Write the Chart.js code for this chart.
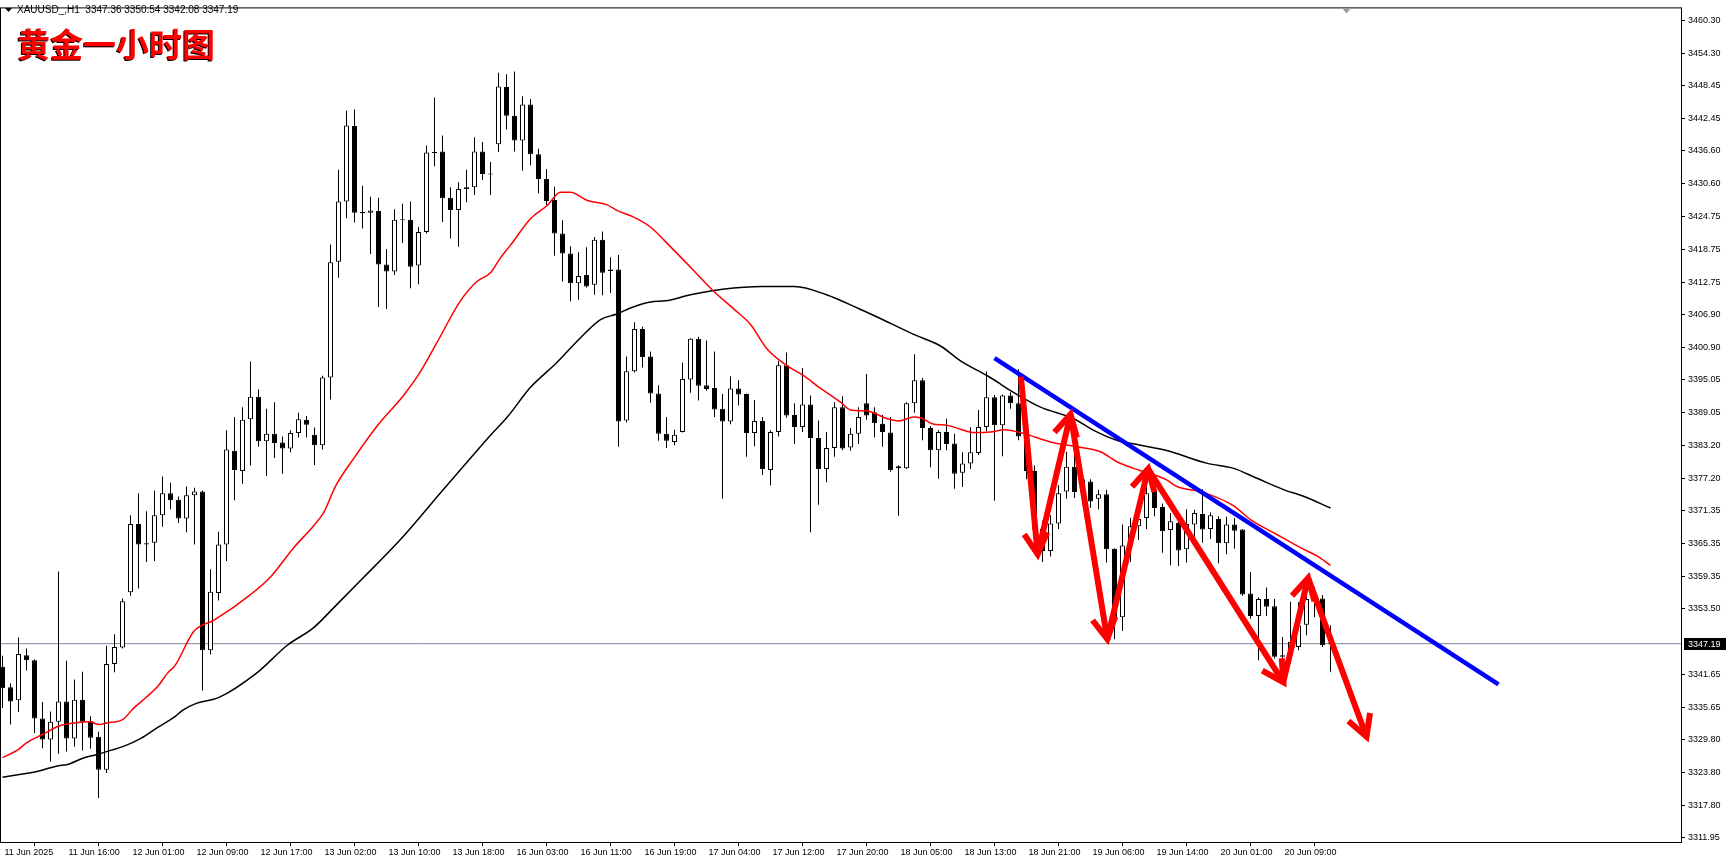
<!DOCTYPE html>
<html><head><meta charset="utf-8">
<script src="https://cdn.jsdelivr.net/npm/chart.js@4.4.1/dist/chart.umd.min.js"></script>
<style>html,body{margin:0;padding:0;background:#fff;overflow:hidden}</style>
</head><body><canvas id="c" width="1729" height="865"></canvas>
<script>
const openP = [3343.0,3339.3,3336.9,3345.1,3344.2,3333.6,3329.8,3333.0,3336.7,3330.0,3337.0,3333.1,3330.3,3324.3,3343.5,3346.5,3356.5,3368.9,3365.4,3365.5,
3370.5,3374.5,3373.3,3369.9,3374.1,3374.8,3346.0,3356.4,3365.2,3382.2,3378.5,3387.9,3392.0,3383.9,3385.3,3383.7,3382.6,3385.4,3387.8,3385.1,
3383.2,3395.5,3416.5,3427.4,3441.1,3425.5,3425.4,3425.7,3416.0,3414.7,3424.1,3424.1,3415.8,3421.9,3436.4,3436.5,3428.1,3425.9,3429.7,3430.0,
3436.5,3432.4,3437.8,3448.2,3443.0,3438.5,3445.0,3436.0,3431.5,3427.7,3421.6,3418.0,3412.6,3414.1,3412.3,3420.5,3414.8,3415.1,3387.7,3396.6,
3404.3,3399.3,3392.6,3385.3,3383.8,3385.6,3395.1,3402.5,3394.1,3393.6,3389.8,3387.5,3393.5,3392.5,3385.4,3387.6,3378.7,3385.6,3397.7,3388.7,
3386.5,3390.6,3384.5,3378.9,3382.7,3390.1,3382.8,3385.3,3390.8,3389.2,3387.1,3385.5,3379.0,3379.0,3390.8,3395.0,3386.3,3382.3,3385.6,3383.5,
3378.2,3379.9,3381.8,3386.5,3391.9,3386.8,3392.2,3390.8,3384.8,3378.5,3368.0,3364.0,3369.0,3374.8,3379.3,3374.7,3376.6,3373.5,3374.3,3364.4,
3352.0,3365.0,3368.5,3370.0,3375.1,3372.0,3367.8,3369.1,3364.3,3368.8,3370.7,3368.0,3369.8,3365.4,3368.8,3367.9,3356.3,3352.2,3355.3,3354.0,
3344.8,3345.1,3346.6,3350.6,3355.3,3355.4,3347.36];
const highP = [3345.0,3340.0,3348.3,3346.3,3344.3,3336.6,3334.9,3360.3,3344.1,3340.7,3342.1,3334.0,3331.2,3346.8,3348.9,3355.4,3370.5,3374.5,3371.2,3375.0,
3377.5,3376.4,3373.9,3375.7,3375.5,3375.0,3360.7,3367.5,3385.9,3388.3,3390.1,3398.4,3393.3,3389.8,3391.0,3384.8,3385.9,3389.1,3388.5,3386.4,
3395.8,3419.6,3433.2,3443.9,3444.1,3430.3,3428.3,3428.1,3418.8,3426.0,3427.0,3427.4,3422.8,3437.6,3446.3,3439.4,3430.0,3430.9,3433.2,3439.1,
3438.2,3434.6,3450.8,3450.5,3451.0,3446.5,3446.0,3437.0,3433.3,3430.1,3424.0,3419.3,3418.2,3419.1,3421.0,3422.0,3417.3,3417.7,3399.3,3405.5,
3404.7,3400.2,3394.1,3388.3,3386.0,3398.2,3402.6,3402.9,3402.2,3400.2,3392.5,3395.7,3395.0,3392.6,3391.4,3388.3,3385.9,3398.5,3400.0,3390.8,
3397.2,3392.2,3387.7,3385.6,3391.0,3392.1,3386.3,3390.1,3396.1,3390.1,3388.7,3388.3,3379.5,3391.0,3399.7,3395.4,3386.7,3385.9,3388.0,3385.3,
3381.9,3386.5,3389.6,3396.6,3392.3,3392.4,3392.8,3397.0,3386.0,3379.5,3369.5,3370.5,3376.0,3382.0,3382.3,3378.0,3377.0,3375.1,3375.1,3364.5,
3368.8,3370.0,3373.0,3376.5,3376.0,3372.6,3370.9,3370.6,3371.6,3371.5,3375.2,3371.0,3370.3,3370.2,3370.0,3368.0,3360.2,3355.6,3357.4,3355.3,
3348.4,3354.8,3354.7,3356.8,3357.5,3356.0,3350.54];
const lowP = [3335.5,3332.5,3334.8,3342.3,3331.0,3328.2,3325.8,3327.2,3327.6,3328.5,3327.8,3328.1,3319.2,3323.7,3342.0,3346.3,3355.9,3357.2,3362.0,3362.2,
3368.4,3371.6,3369.1,3367.4,3365.2,3338.7,3345.2,3355.0,3362.2,3373.2,3376.2,3379.5,3382.9,3377.6,3380.9,3378.0,3381.9,3384.6,3384.6,3379.6,
3382.4,3391.5,3413.6,3424.4,3423.6,3422.5,3417.9,3408.3,3407.9,3414.1,3419.9,3411.7,3412.4,3421.6,3433.8,3423.7,3420.7,3419.2,3427.3,3428.6,
3431.3,3428.6,3436.4,3440.5,3436.5,3433.0,3434.0,3428.9,3426.8,3417.6,3412.9,3409.3,3409.6,3411.8,3410.5,3410.4,3410.8,3382.9,3387.3,3396.4,
3397.3,3390.9,3384.0,3382.7,3383.2,3385.5,3392.7,3391.3,3393.1,3388.3,3373.5,3387.0,3390.4,3381.1,3383.0,3377.8,3375.9,3384.8,3388.2,3383.4,
3385.6,3367.4,3372.4,3376.5,3381.1,3382.3,3382.2,3383.4,3387.8,3384.6,3382.9,3378.4,3370.4,3378.9,3389.1,3384.1,3379.2,3377.1,3382.3,3375.3,
3375.6,3378.9,3381.4,3385.7,3373.1,3381.2,3389.8,3384.1,3377.0,3366.0,3362.0,3363.0,3368.0,3373.5,3373.6,3372.5,3371.8,3371.6,3361.9,3348.0,
3349.5,3362.0,3366.0,3368.0,3370.3,3363.7,3361.4,3361.3,3361.9,3365.5,3365.5,3366.2,3361.8,3363.4,3364.4,3355.9,3351.7,3344.2,3352.2,3344.5,
3341.5,3343.6,3346.0,3348.7,3352.0,3346.6,3342.08];
const closeP = [3339.1,3336.7,3345.3,3344.2,3333.6,3329.8,3333.0,3336.7,3330.0,3337.0,3333.0,3330.1,3324.3,3343.5,3346.6,3354.9,3368.9,3365.2,3365.2,3370.5,
3374.5,3373.2,3369.9,3374.1,3374.8,3346.0,3356.6,3365.2,3382.4,3378.7,3387.8,3392.0,3383.9,3385.3,3383.6,3382.6,3385.4,3387.9,3386.9,3383.2,
3395.5,3416.4,3427.4,3441.2,3425.4,3425.3,3425.8,3416.0,3414.7,3424.1,3424.0,3415.6,3421.9,3436.3,3436.2,3428.0,3425.9,3429.7,3430.0,3436.5,
3432.4,3432.3,3448.3,3443.0,3438.5,3445.0,3436.0,3431.5,3427.5,3421.6,3418.0,3412.6,3413.9,3412.0,3420.5,3414.5,3415.1,3387.5,3396.6,3404.3,
3399.2,3392.6,3385.3,3384.0,3385.1,3395.2,3402.5,3394.0,3393.4,3389.7,3387.5,3393.5,3392.4,3385.4,3387.6,3378.9,3385.6,3397.7,3388.6,3386.5,
3390.6,3384.5,3378.9,3382.7,3390.1,3382.6,3385.3,3388.3,3388.6,3387.2,3385.6,3378.7,3379.4,3390.8,3395.0,3386.3,3382.3,3385.6,3383.4,3378.0,
3379.9,3381.9,3386.5,3391.9,3386.8,3392.2,3390.8,3384.8,3378.5,3368.0,3364.0,3369.0,3374.5,3379.3,3374.7,3377.0,3373.0,3374.3,3364.3,3352.0,
3365.0,3368.5,3369.8,3374.5,3371.8,3367.6,3369.4,3364.1,3368.9,3370.9,3367.9,3370.5,3365.4,3368.8,3367.7,3356.1,3352.2,3355.3,3353.9,3344.8,
3345.1,3347.5,3350.5,3355.3,3355.6,3346.9,3347.19];

const xTickLabels = ['11 Jun 2025','11 Jun 16:00','12 Jun 01:00','12 Jun 09:00','12 Jun 17:00','13 Jun 02:00','13 Jun 10:00','13 Jun 18:00',
'16 Jun 03:00','16 Jun 11:00','16 Jun 19:00','17 Jun 04:00','17 Jun 12:00','17 Jun 20:00','18 Jun 05:00','18 Jun 13:00','18 Jun 21:00',
'19 Jun 06:00','19 Jun 14:00','20 Jun 01:00','20 Jun 09:00'];
const yTickValues = [3460.30,3454.30,3448.45,3442.45,3436.60,3430.60,3424.75,3418.75,3412.75,3406.90,3400.90,3395.05,3389.05,3383.20,
3377.20,3371.35,3365.35,3359.35,3353.50,3341.65,3335.65,3329.80,3323.80,3317.80,3311.95];

const maRedBars = [0,2,3,5,7,9,11,12,13,15,16.4,18,19.5,20.6,21.6,23.9,26.5,31,33.5,36.4,38.9,40.2,41.6,44,47,50,52,54.3,57.2,59.3,61,62.2,63.5,66,68.1,69.75,71,73.1,75.6,76.8,78.9,81,82.9,86,89,91.5,93.5,95.6,98.1,100.2,102.25,103.5,104.75,106,108.1,110.6,112,113.9,114.75,116.2,118.1,119.75,121.4,123.5,125.2,127.7,131,134.3,137.25,139.3,141.4,143.5,145.4,146.8,150.2,153.9,156,159.3,162.25,164.3,166];
const maRedValues = [3326.5,3328.0,3329.2,3330.7,3332.2,3332.8,3333.0,3332.5,3332.8,3333.4,3335.5,3337.5,3339.6,3341.8,3343.3,3349.4,3351.5,3356.1,3359.3,3364.6,3368.6,3371.1,3375.7,3381.0,3387.0,3392.0,3396.0,3401.8,3409.3,3412.9,3414.5,3417.1,3419.5,3424.3,3426.7,3429.1,3429.1,3427.6,3426.8,3425.8,3424.6,3422.8,3420.1,3415.5,3411.0,3407.8,3405.1,3400.6,3397.6,3395.8,3393.5,3392.3,3391.0,3389.6,3389.4,3388.0,3387.6,3388.3,3388.2,3387.1,3386.8,3386.1,3385.5,3385.6,3386.0,3385.3,3383.8,3382.9,3382.0,3380.2,3379.0,3378.0,3377.0,3375.7,3374.6,3372.2,3369.7,3367.0,3364.6,3363.1,3361.4];
const maBlackBars = [0,2.3,4.3,7,8,10.2,11.6,13,15.2,17.3,19.3,21.6,22.5,24.3,27,31.8,35.6,38.9,41.6,45,50,55,58,61,63.1,66,69.3,72.25,74.75,76.8,78.5,81,82.9,86,90,95,99,103,107,110,113.9,117.25,119.75,123.1,124.75,126,129.75,133.9,136.4,139.3,142.25,145.4,150.6,153.9,156.8,160.2,162.7,166];
const maBlackValues = [3322.95,3323.5,3324.0,3325.05,3325.2,3326.5,3327.0,3327.6,3328.6,3330.0,3331.9,3334.0,3335.1,3336.4,3337.4,3341.9,3346.9,3350.1,3354.0,3359.0,3366.5,3375.0,3380.0,3385.0,3388.3,3393.7,3398.2,3402.7,3406.0,3407.0,3408.1,3409.2,3409.4,3410.5,3411.5,3412.0,3412.0,3410.5,3408.0,3406.0,3403.3,3401.2,3398.5,3395.8,3394.3,3393.1,3390.1,3388.0,3385.9,3384.1,3383.2,3382.3,3379.9,3379.0,3377.2,3375.1,3373.9,3371.8];

const trendBars = [124.0, 187.0];
const trendValues = [3399.0, 3339.8];
const arrowBars = [127.3, 129.4, 133.5, 138.1, 143.2, 160.1, 163.2, 170.5];
const arrowValues = [3395.6, 3363.4, 3388.8, 3348.0, 3378.9, 3340.2, 3359.1, 3330.3];

const symbolText = 'XAUUSD_,H1';
const titleText = '黄金一小时图';

const N = openP.length;
const idx = Array.from({length: N}, (_, i) => i);
const lastClose = closeP[N - 1];
const pts = (xs, ys) => xs.map((x, k) => ({x: x, y: ys[k]}));

const decor = {
  id: 'decor',
  beforeDraw(chart) {
    const c = chart.ctx;
    c.save(); c.fillStyle = '#fff'; c.fillRect(0, 0, chart.width, chart.height); c.restore();
  },
  afterDatasetsDraw(chart) {
    const c = chart.ctx;
    const meta = chart.getDatasetMeta(chart.data.datasets.findIndex(d => d.id === 'arrows'));
    const p = meta.data;
    c.save();
    c.strokeStyle = '#ff0000'; c.lineWidth = 6; c.lineCap = 'butt'; c.lineJoin = 'miter';
    for (let k = 1; k < p.length; k++) {
      const a = p[k - 1], b = p[k];
      const ang = Math.atan2(b.y - a.y, b.x - a.x);
      const L = 24, spread = 0.5;
      c.beginPath();
      c.moveTo(b.x - L * Math.cos(ang - spread), b.y - L * Math.sin(ang - spread));
      c.lineTo(b.x, b.y);
      c.lineTo(b.x - L * Math.cos(ang + spread), b.y - L * Math.sin(ang + spread));
      c.stroke();
    }
    c.restore();
  },
  afterDraw(chart) {
    const c = chart.ctx, a = chart.chartArea, ys = chart.scales.y, xs = chart.scales.x;
    c.save();
    c.strokeStyle = '#000'; c.lineWidth = 1;
    c.strokeRect(a.left - 0.5, a.top - 0.5, a.right - a.left + 1, a.bottom - a.top + 1);
    // header
    c.fillStyle = '#000';
    c.beginPath(); c.moveTo(5, 8); c.lineTo(12, 8); c.lineTo(8.5, 12); c.closePath(); c.fill();
    c.font = '10px "Liberation Sans", Arial, sans-serif';
    c.textBaseline = 'middle'; c.textAlign = 'left';
    c.fillText(symbolText + '  ' + [openP[N-1], highP[N-1], lowP[N-1], closeP[N-1]].map(v => v.toFixed(2)).join(' '), 17, 10.5);
    // title
    c.font = 'bold 33px "Noto Sans CJK SC", sans-serif';
    c.textBaseline = 'middle';
    c.fillStyle = '#000'; c.fillText(titleText, 16, 45);
    c.fillStyle = '#ff0000'; c.fillText(titleText, 17, 44);
    // current price box
    const py = Math.round(ys.getPixelForValue(lastClose));
    c.fillStyle = '#000'; c.fillRect(a.right + 3, py - 6, 42, 12);
    c.fillStyle = '#fff'; c.font = '9px "Liberation Sans", Arial, sans-serif';
    c.fillText(lastClose.toFixed(2), a.right + 7, py + 0.5);
    // shift marker
    const sx = xs.getPixelForValue(168);
    c.fillStyle = '#9a9a9a';
    c.beginPath(); c.moveTo(sx - 4, a.top); c.lineTo(sx + 4, a.top); c.lineTo(sx, a.top + 5); c.closePath(); c.fill();
    c.restore();
  }
};

new Chart(document.getElementById('c'), {
  type: 'bar',
  data: {
    datasets: [
      {type: 'line', id: 'bid', data: [{x: -1, y: lastClose}, {x: 212, y: lastClose}], borderColor: '#778899', borderWidth: 1, pointRadius: 0, order: 10},
      {type: 'bar', id: 'wicks', data: idx.map(i => ({x: i, y: [lowP[i], highP[i]]})), backgroundColor: '#000', borderWidth: 0,
        barThickness: 1, grouped: false, inflateAmount: 0, order: 9},
      {type: 'bar', id: 'bodies', data: idx.map(i => ({x: i, y: [openP[i], closeP[i]]})),
        backgroundColor: ctx => (closeP[ctx.dataIndex] >= openP[ctx.dataIndex] ? '#ffffff' : '#000000'),
        borderColor: '#000', borderWidth: 1, borderSkipped: false, barThickness: 5, minBarLength: 1, grouped: false, inflateAmount: 0, order: 8},
      {type: 'line', id: 'maSlow', data: pts(maBlackBars, maBlackValues), borderColor: '#000', borderWidth: 1.5, pointRadius: 0, cubicInterpolationMode: 'monotone', order: 5},
      {type: 'line', id: 'maFast', data: pts(maRedBars, maRedValues), borderColor: '#ff0000', borderWidth: 1.5, pointRadius: 0, cubicInterpolationMode: 'monotone', order: 4},
      {type: 'line', id: 'trend', data: pts(trendBars, trendValues), borderColor: '#0000ff', borderWidth: 4.5, pointRadius: 0, order: 2},
      {type: 'line', id: 'arrows', data: pts(arrowBars, arrowValues), borderColor: '#ff0000', borderWidth: 6, pointRadius: 0, borderJoinStyle: 'bevel', order: 1}
    ]
  },
  options: {
    responsive: false, animation: false, devicePixelRatio: 1,
    layout: {padding: {left: 1, top: 1, right: 0, bottom: 0}},
    plugins: {legend: {display: false}, tooltip: {enabled: false}, title: {display: false}},
    scales: {
      x: {
        type: 'linear', min: -0.1875, max: 209.8125, offset: false,
        afterBuildTicks: s => { s.ticks = xTickLabels.map((_, k) => ({value: k * 8})); },
        afterFit: s => { s.height = 23; },
        grid: {display: true, drawOnChartArea: false, drawTicks: true, tickLength: 4, color: '#000'},
        border: {display: true, color: '#000'},
        ticks: {autoSkip: false, maxRotation: 0, align: 'start', labelOffset: 2, padding: 1, color: '#000',
          font: {family: '"Liberation Sans", Arial, sans-serif', size: 9},
          callback: v => { const k = Math.round(v / 8); return xTickLabels[k] || ''; }}
      },
      y: {
        type: 'linear', position: 'right', min: 3311.20, max: 3462.46,
        afterBuildTicks: s => { s.ticks = yTickValues.map(v => ({value: v})); },
        afterFit: s => { s.width = 48; },
        grid: {display: true, drawOnChartArea: false, drawTicks: true, tickLength: 4, color: '#000'},
        border: {display: true, color: '#000'},
        ticks: {autoSkip: false, padding: 3, color: '#000', crossAlign: 'near',
          font: {family: '"Liberation Sans", Arial, sans-serif', size: 9},
          callback: v => Number(v).toFixed(2)}
      }
    }
  },
  plugins: [decor]
});
</script>
</body></html>
